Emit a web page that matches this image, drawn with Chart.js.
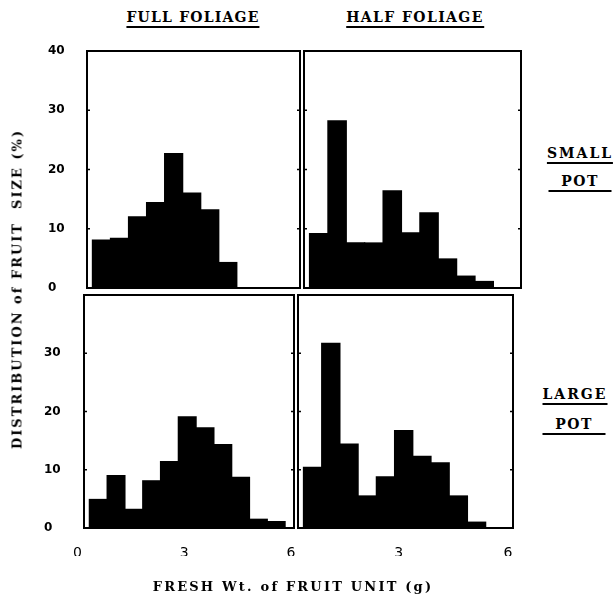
<!DOCTYPE html>
<html>
<head>
<meta charset="utf-8">
<title>Distribution of fruit size</title>
<script src="https://cdn.jsdelivr.net/npm/chart.js@4.4.0/dist/chart.umd.min.js"></script>
<style>
  body { margin: 0; background: #fff; }
  #page {
    position: relative; width: 616px; height: 594px; overflow: hidden;
    font-family: "DejaVu Serif", serif; font-weight: bold; color: #000;
  }
  #page canvas { position: absolute; }
  .lbl { position: absolute; white-space: nowrap; line-height: 1; transform: translateX(-50%); }
  .ul { border-bottom: 2px solid #000; padding-bottom: 2px; }
</style>
</head>
<body>
<div id="page">
  <canvas id="fullSmall" width="302" height="252" style="left:0;top:40px"></canvas>
  <canvas id="halfSmall" width="220" height="252" style="left:302px;top:40px"></canvas>
  <canvas id="fullLarge" width="296" height="290" style="left:0;top:292px"></canvas>
  <canvas id="halfLarge" width="218" height="290" style="left:296px;top:292px"></canvas>

  <div class="lbl ul" style="left:193px;top:10px;font-size:14px;letter-spacing:1.2px">FULL FOLIAGE</div>
  <div class="lbl ul" style="left:415px;top:10px;font-size:14px;letter-spacing:1.4px">HALF FOLIAGE</div>

  <div class="lbl ul" style="left:580px;top:146px;font-size:14px;letter-spacing:2px">SMALL</div>
  <div class="lbl ul" style="left:580px;top:174px;font-size:14px;letter-spacing:1.5px;width:63px;text-align:center">POT</div>
  <div class="lbl ul" style="left:575px;top:387px;font-size:14px;letter-spacing:2px">LARGE</div>
  <div class="lbl ul" style="left:574px;top:417px;font-size:14px;letter-spacing:1.5px;width:63px;text-align:center">POT</div>

  <div class="lbl" style="left:17px;top:289px;font-size:13px;letter-spacing:2px;transform:translate(-50%,-50%) rotate(-90deg)">DISTRIBUTION of FRUIT&nbsp; SIZE (%)</div>
  <div class="lbl" style="left:293px;top:580px;font-size:13px;letter-spacing:2.2px">FRESH Wt. of FRUIT UNIT (g)</div>
</div>

<script>
// class midpoints of fresh weight (g), 0.5 g classes
const weightBins = [0.5, 1.0, 1.5, 2.0, 2.5, 3.0, 3.5, 4.0, 4.5, 5.0, 5.5];

// share of fruit (%) falling in each weight class
const fullSmallPot = [8.1, 8.4, 12.0, 14.4, 22.7, 16.0, 13.2, 4.3];
const halfSmallPot = [9.2, 28.2, 7.6, 7.6, 16.4, 9.3, 12.7, 4.9, 2.0, 1.1];
const fullLargePot = [4.9, 9.0, 3.2, 8.1, 11.4, 19.1, 17.2, 14.3, 8.7, 1.5, 1.1];
const halfLargePot = [10.4, 31.7, 14.4, 5.5, 8.8, 16.7, 12.3, 11.2, 5.5, 1.0];

const yTicksTop = [0, 10, 20, 30, 40];
const yTicksBottom = [0, 10, 20, 30];
const xTicksLeft = [0, 3, 6];
const xTicksRight = [3, 6];
const innerTicks = [10, 20, 30];

// box around each panel plus small inward tick marks on both sides
const framePlugin = {
    id: 'panelFrame',
    afterDatasetsDraw(chart) {
        const { ctx, chartArea: a, scales } = chart;
        ctx.save();
        ctx.strokeStyle = '#000';
        ctx.lineWidth = 2;
        ctx.strokeRect(a.left, a.top, a.right - a.left, a.bottom - a.top);
        ctx.lineWidth = 1.5;
        innerTicks.forEach(v => {
            const y = scales.y.getPixelForValue(v);
            ctx.beginPath();
            ctx.moveTo(a.left, y);
            ctx.lineTo(a.left + 3, y);
            ctx.moveTo(a.right, y);
            ctx.lineTo(a.right - 3, y);
            ctx.stroke();
        });
        ctx.restore();
    }
};

function makePanel(id, values, opt) {
    const points = values.map((v, i) => ({ x: weightBins[i], y: v }));
    const showX = !!opt.xTicks;
    const showY = !!opt.yTicks;

    return new Chart(document.getElementById(id), {
        type: 'bar',
        data: {
            datasets: [{
                data: points,
                backgroundColor: '#000',
                borderWidth: 0,
                barPercentage: 1,
                categoryPercentage: 1,
                inflateAmount: 0.6
            }]
        },
        options: {
            responsive: false,
            animation: false,
            layout: { padding: opt.padding },
            plugins: { legend: { display: false }, tooltip: { enabled: false } },
            scales: {
                x: {
                    type: 'linear',
                    min: 0.1,
                    max: 6,
                    offset: false,
                    display: showX,
                    grid: { display: false, drawTicks: false },
                    border: { display: false },
                    afterBuildTicks: s => { s.ticks = (opt.xTicks || []).map(v => ({ value: v })); },
                    afterFit: s => {
                        s.height = showX ? 28 : 0;
                        s.paddingLeft = 0;
                        s.paddingRight = 0;
                    },
                    ticks: {
                        color: '#000',
                        font: { family: 'DejaVu Sans', size: 14 },
                        padding: 17,
                        labelOffset: opt.xOffset || 0,
                        maxRotation: 0,
                        autoSkip: false
                    }
                },
                y: {
                    min: 0,
                    max: 40,
                    display: showY,
                    grid: { display: false, drawTicks: false },
                    border: { display: false },
                    afterBuildTicks: s => { s.ticks = (opt.yTicks || []).map(v => ({ value: v })); },
                    afterFit: s => {
                        s.width = showY ? opt.yWidth : 0;
                        s.paddingTop = 0;
                        s.paddingBottom = 0;
                    },
                    ticks: {
                        color: '#000',
                        crossAlign: 'far',
                        font: { family: 'DejaVu Sans', size: 12, weight: 'bold' }
                    }
                }
            }
        },
        plugins: [framePlugin]
    });
}

makePanel('fullSmall', fullSmallPot, {
    padding: { left: 48, top: 11, right: 2, bottom: 4 }, yTicks: yTicksTop, yWidth: 39
});
makePanel('halfSmall', halfSmallPot, {
    padding: { left: 2, top: 11, right: 1, bottom: 4 }
});
makePanel('fullLarge', fullLargePot, {
    padding: { left: 44, top: 3, right: 2, bottom: 26 }, yTicks: yTicksBottom, yWidth: 40,
    xTicks: xTicksLeft, xOffset: -3
});
makePanel('halfLarge', halfLargePot, {
    padding: { left: 2, top: 3, right: 1, bottom: 26 }, xTicks: xTicksRight, xOffset: -5
});
</script>
</body>
</html>
